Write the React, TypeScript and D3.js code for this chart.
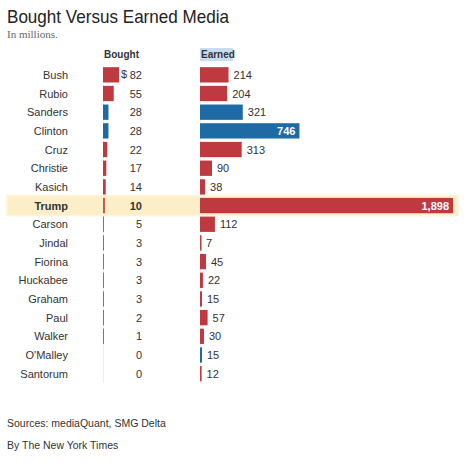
import React from "react";
import * as d3 from "d3";

const names = ["Bush","Rubio","Sanders","Clinton","Cruz","Christie","Kasich","Trump","Carson","Jindal","Fiorina","Huckabee","Graham","Paul","Walker","O'Malley","Santorum"];
const bought = [82,55,28,28,22,17,14,10,5,3,3,3,3,2,1,0,0];
const earned = [214,204,321,746,313,90,38,1898,112,7,45,22,15,57,30,15,12];
const democrats = ["Sanders","Clinton","O'Malley"];
const insideLabels = ["Clinton","Trump"];
const highlight = "Trump";

const RED = "#bf3a40";
const BLUE = "#1e6aa4";
const SANS = "'Liberation Sans', Arial, Helvetica, sans-serif";

export default function App() {
  const W = 474, H = 463;
  const y = d3.scaleBand<string>().domain(names).range([65.5, 383]).paddingInner(0.18).paddingOuter(0.09);
  const xb = d3.scaleLinear().domain([0, 82]).range([103, 119]);
  const xe = d3.scaleLinear().domain([0, 1898]).range([200, 453]);
  const fmt = d3.format(",");
  const step = y.step();
  return (
    <svg width={W} height={H} style={{ position: "absolute", left: 0, top: 0, background: "#fff" }}>
      <text x={7} y={23} fontFamily={SANS} fontSize={18.5} fill="#222" textLength={222} lengthAdjust="spacingAndGlyphs">Bought Versus Earned Media</text>
      <text x={7} y={38} fontFamily="'Liberation Serif', 'DejaVu Serif', serif" fontSize={11} fill="#666">In millions.</text>
      <text x={104} y={58} fontFamily={SANS} fontSize={10} fontWeight="bold" fill="#333">Bought</text>
      <rect x={200} y={48} width={33} height={13} fill="#c9ddf2" />
      <text x={201} y={58} fontFamily={SANS} fontSize={10} fontWeight="bold" fill="#333">Earned</text>
      {(() => {
        const i = names.indexOf(highlight);
        const cy = (y(highlight) as number) + y.bandwidth() / 2;
        return (
          <g>
            <rect x={6} y={cy - step / 2 - 1.5} width={453} height={step + 3} fill="#fdf4dc" />
            <rect x={8} y={cy - step / 2} width={449} height={step} fill="#fcefc8" />
          </g>
        );
      })()}
      <line x1={103.5} x2={103.5} y1={66} y2={383} stroke="#eceff2" />
      <line x1={200.5} x2={200.5} y1={66} y2={383} stroke="#eceff2" />
      {names.map((n, i) => {
        const top = y(n) as number;
        const cy = top + y.bandwidth() / 2;
        const col = democrats.includes(n) ? BLUE : RED;
        const bold = n === highlight;
        const inside = insideLabels.includes(n);
        const ew = xe(earned[i]) - xe(0);
        return (
          <g key={n} fontFamily={SANS} fontSize={11} fill="#333">
            <text x={68} y={cy + 4} textAnchor="end" fontWeight={bold ? "bold" : "normal"}>{n}</text>
            {bought[i] > 0 && <rect x={xb(0)} y={top} width={Math.max(1, xb(bought[i]) - xb(0))} height={y.bandwidth()} fill={col} opacity={bought[i] < 12 ? 0.85 : 1} />}
            {i === 0 && <text x={121} y={cy + 3} fontSize={11}>$</text>}
            <text x={142} y={cy + 4} textAnchor="end" fontWeight={bold ? "bold" : "normal"}>{bought[i]}</text>
            <rect x={xe(0)} y={top} width={Math.max(1.5, ew)} height={y.bandwidth()} fill={col} />
            {inside ? (
              <text x={xe(earned[i]) - 4} y={cy + 4} textAnchor="end" fill="#fff" fontWeight="bold">{fmt(earned[i])}</text>
            ) : (
              <text x={xe(earned[i]) + 5} y={cy + 4} textAnchor="start">{fmt(earned[i])}</text>
            )}
          </g>
        );
      })}
      <text x={7} y={427} fontFamily={SANS} fontSize={10.5} fill="#333">Sources: mediaQuant, SMG Delta</text>
      <text x={7} y={449} fontFamily={SANS} fontSize={10.5} fill="#333">By The New York Times</text>
    </svg>
  );
}
